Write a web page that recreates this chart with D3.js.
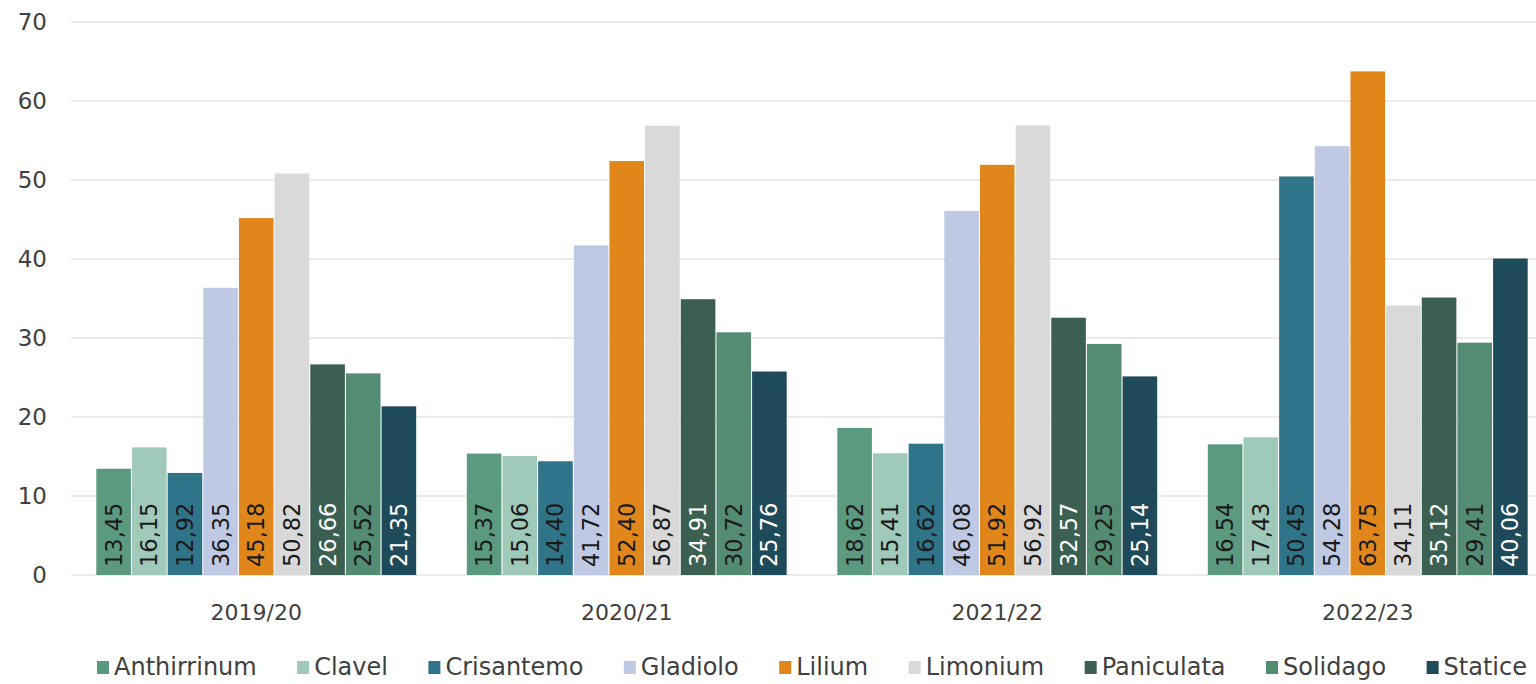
<!DOCTYPE html>
<html>
<head>
  <meta charset="utf-8">
  <script src="https://d3js.org/d3.v7.min.js"></script>
</head>
<style>
  body { margin: 0; background: #fff; }
  svg { display: block; font-family: "DejaVu Sans", "Noto Sans", sans-serif; }
  .grid line { stroke: #e4e4e4; stroke-width: 1.5px; }
  .tick-label { fill: #404040; font-size: 22px; }
  .bar-label { font-size: 22.5px; }
</style>
<body>
  <svg id="chart" width="1536" height="684"></svg>
  <script>
    const seasons = ["2019/20", "2020/21", "2021/22", "2022/23"];
    const flowers = ["Anthirrinum", "Clavel", "Crisantemo", "Gladiolo", "Lilium", "Limonium", "Paniculata", "Solidago", "Statice"];
    const colors = ["#5b9a7f", "#9fcab9", "#2f7489", "#bfc9e4", "#e0861b", "#d9d9d9", "#3b5f50", "#538b73", "#1f4a59"];
    const labelColors = ["#1a1a1a", "#1a1a1a", "#1a1a1a", "#1a1a1a", "#1a1a1a", "#1a1a1a", "#ffffff", "#1a1a1a", "#ffffff"];
    // values per flower, one per season
    const anthirrinum = [13.45, 15.37, 18.62, 16.54];
    const clavel = [16.15, 15.06, 15.41, 17.43];
    const crisantemo = [12.92, 14.40, 16.62, 50.45];
    const gladiolo = [36.35, 41.72, 46.08, 54.28];
    const lilium = [45.18, 52.40, 51.92, 63.75];
    const limonium = [50.82, 56.87, 56.92, 34.11];
    const paniculata = [26.66, 34.91, 32.57, 35.12];
    const solidago = [25.52, 30.72, 29.25, 29.41];
    const statice = [21.35, 25.76, 25.14, 40.06];
    const series = [anthirrinum, clavel, crisantemo, gladiolo, lilium, limonium, paniculata, solidago, statice];
    const yTicks = [0, 10, 20, 30, 40, 50, 60, 70];

    const svg = d3.select("#chart");
    const mLeft = 71, mRight = 1553, mTop = 22, mBottom = 575;

    const x0 = d3.scaleBand().domain(seasons).range([mLeft, mRight]).paddingInner(0).paddingOuter(0);
    const x1 = d3.scaleBand().domain(flowers).range([0, x0.bandwidth()]).paddingOuter(0.71).paddingInner(0.03);
    const y = d3.scaleLinear().domain([0, 70]).range([mBottom, mTop]);

    // grid
    svg.append("g").attr("class", "grid")
      .selectAll("line").data(yTicks).join("line")
      .attr("x1", mLeft).attr("x2", 1536)
      .attr("y1", d => y(d)).attr("y2", d => y(d));

    svg.append("g").selectAll("text").data(yTicks).join("text")
      .attr("class", "tick-label")
      .style("font-size", "23px")
      .attr("x", 47).attr("y", d => y(d))
      .attr("text-anchor", "end").attr("dominant-baseline", "central")
      .text(d => d);

    const groups = svg.append("g").selectAll("g").data(seasons).join("g")
      .attr("transform", d => "translate(" + x0(d) + ",0)");

    groups.selectAll("rect")
      .data((s, si) => flowers.map((f, fi) => ({ f: f, fi: fi, v: series[fi][si] })))
      .join("rect")
      .attr("x", d => x1(d.f))
      .attr("width", x1.bandwidth())
      .attr("y", d => y(d.v))
      .attr("height", d => y(0) - y(d.v))
      .attr("fill", d => colors[d.fi]);

    groups.selectAll("text.bar-label")
      .data((s, si) => flowers.map((f, fi) => ({ f: f, fi: fi, v: series[fi][si] })))
      .join("text")
      .attr("class", "bar-label")
      .attr("transform", d => "translate(" + (x1(d.f) + x1.bandwidth() / 2) + "," + (y(0) - 8) + ") rotate(-90)")
      .attr("dominant-baseline", "central")
      .attr("fill", d => labelColors[d.fi])
      .text(d => d.v.toFixed(2).replace(".", ","));

    // season labels
    svg.append("g").selectAll("text").data(seasons).join("text")
      .attr("class", "tick-label")
      .attr("x", d => x0(d) + x0.bandwidth() / 2)
      .attr("y", 612)
      .attr("text-anchor", "middle").attr("dominant-baseline", "central")
      .text(d => d);

    // legend, spread from 97 to 1527 like the original
    const legend = svg.append("g").attr("transform", "translate(0,667)");
    const items = flowers.map((f, i) => {
      legend.append("rect").attr("class", "sw").attr("fill", colors[i]);
      return legend.append("text").attr("class", "tick-label")
        .attr("dominant-baseline", "central").style("font-size", "24px").text(f);
    });
    const widths = items.map(t => t.node().getComputedTextLength());
    const gap = (1527 - 97 - d3.sum(widths) - 9 * 17) / 8;
    let lx = 97;
    legend.selectAll("rect.sw").each(function (d, i) {
      d3.select(this).attr("x", lx).attr("y", -6).attr("width", 12).attr("height", 13);
      items[i].attr("x", lx + 17).attr("y", 0);
      lx += 17 + widths[i] + gap;
    });
  </script>
</body>
</html>
